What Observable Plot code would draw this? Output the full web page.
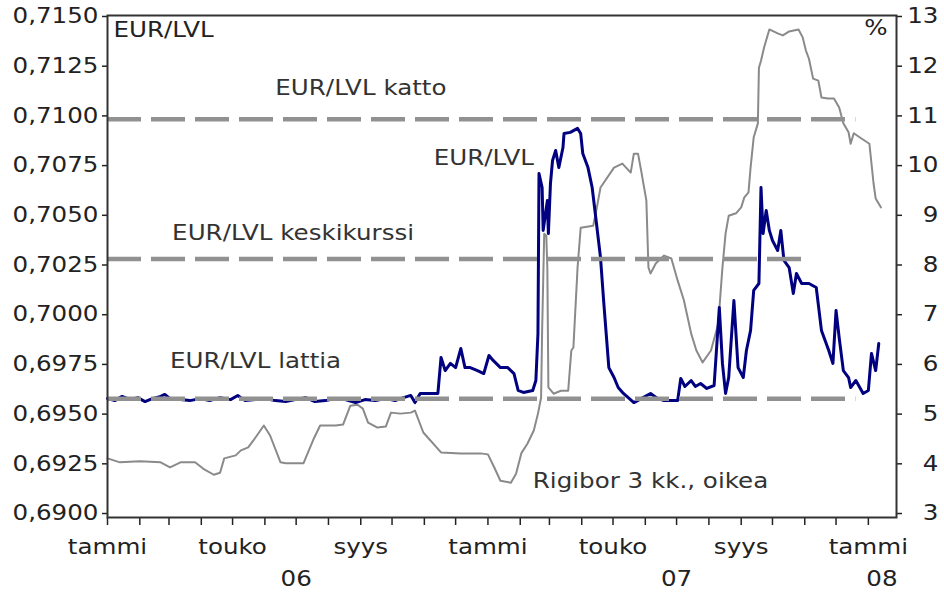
<!DOCTYPE html>
<html><head><meta charset="utf-8">
<script src="https://cdn.jsdelivr.net/npm/d3@7"></script>
<script src="https://cdn.jsdelivr.net/npm/@observablehq/plot@0.6"></script>
<style>
html,body{margin:0;padding:0;background:#fff;}
#chart{width:944px;height:596px;}
</style></head><body><div id="chart"></div>
<script>
// EUR/LVL exchange rate (left axis)
const eurDates = ["2006-01-01","2006-01-08","2006-01-15","2006-01-23","2006-01-30","2006-02-06","2006-02-13","2006-02-21","2006-02-25","2006-03-02","2006-03-12","2006-03-21","2006-03-31","2006-04-09","2006-04-19","2006-04-29","2006-05-06","2006-05-13","2006-05-23","2006-06-01","2006-06-11","2006-06-21","2006-06-30","2006-07-10","2006-07-19","2006-07-29","2006-08-08","2006-08-17","2006-08-27","2006-09-05","2006-09-15","2006-09-25","2006-10-04","2006-10-09","2006-10-19","2006-10-23","2006-10-28","2006-11-14","2006-11-17","2006-11-21","2006-11-26","2006-12-01","2006-12-06","2006-12-10","2006-12-15","2006-12-22","2006-12-28","2007-01-02","2007-01-06","2007-01-13","2007-01-20","2007-01-26","2007-01-30","2007-02-04","2007-02-13","2007-02-16","2007-02-18","2007-02-19","2007-02-22","2007-02-23","2007-02-27","2007-02-28","2007-03-02","2007-03-04","2007-03-07","2007-03-10","2007-03-14","2007-03-15","2007-03-21","2007-03-28","2007-03-31","2007-04-02","2007-04-07","2007-04-11","2007-04-14","2007-04-19","2007-04-22","2007-04-27","2007-05-02","2007-05-06","2007-05-11","2007-05-21","2007-05-28","2007-06-06","2007-06-13","2007-06-19","2007-07-02","2007-07-05","2007-07-09","2007-07-15","2007-07-19","2007-07-24","2007-07-30","2007-08-06","2007-08-11","2007-08-14","2007-08-17","2007-08-20","2007-08-25","2007-08-29","2007-09-03","2007-09-06","2007-09-10","2007-09-13","2007-09-18","2007-09-20","2007-09-22","2007-09-25","2007-09-28","2007-10-01","2007-10-06","2007-10-09","2007-10-12","2007-10-17","2007-10-21","2007-10-24","2007-10-29","2007-11-05","2007-11-12","2007-11-17","2007-11-24","2007-11-28","2007-12-01","2007-12-04","2007-12-08","2007-12-13","2007-12-15","2007-12-20","2007-12-27","2008-01-01","2008-01-04","2008-01-08","2008-01-11"];
const eurValues = [0.69578,0.69568,0.69589,0.69573,0.69583,0.69563,0.69578,0.69589,0.69599,0.69578,0.69573,0.69568,0.69578,0.69568,0.69583,0.69573,0.69594,0.69568,0.69573,0.69578,0.69568,0.69563,0.69573,0.69583,0.69563,0.69568,0.69578,0.69573,0.69558,0.69573,0.69568,0.69578,0.69568,0.69578,0.69594,0.69558,0.69604,0.69604,0.69785,0.69719,0.69755,0.69734,0.69830,0.69734,0.69734,0.69719,0.69704,0.69795,0.69770,0.69734,0.69734,0.69704,0.69619,0.69609,0.69619,0.69669,0.69905,0.70710,0.70640,0.70424,0.70574,0.70408,0.70660,0.70776,0.70826,0.70740,0.70841,0.70911,0.70917,0.70937,0.70911,0.70811,0.70740,0.70640,0.70509,0.70288,0.70071,0.69734,0.69684,0.69634,0.69604,0.69558,0.69578,0.69604,0.69578,0.69568,0.69568,0.69679,0.69639,0.69669,0.69639,0.69654,0.69629,0.69644,0.70036,0.69755,0.69604,0.69684,0.70071,0.69734,0.69684,0.69820,0.69921,0.70122,0.70157,0.70640,0.70408,0.70524,0.70424,0.70373,0.70323,0.70424,0.70273,0.70237,0.70107,0.70207,0.70157,0.70157,0.70137,0.69921,0.69820,0.69755,0.70021,0.69885,0.69719,0.69684,0.69634,0.69669,0.69604,0.69619,0.69805,0.69719,0.69855];

// Rigibor 3 months, % (right axis)
const rigDates = ["2006-01-01","2006-01-13","2006-02-01","2006-02-21","2006-03-02","2006-03-12","2006-03-26","2006-04-03","2006-04-13","2006-04-19","2006-04-23","2006-05-04","2006-05-09","2006-05-16","2006-05-21","2006-05-31","2006-06-06","2006-06-16","2006-06-21","2006-07-08","2006-07-18","2006-07-24","2006-08-08","2006-08-15","2006-08-22","2006-08-29","2006-09-03","2006-09-08","2006-09-17","2006-09-25","2006-09-30","2006-10-09","2006-10-19","2006-10-23","2006-10-31","2006-11-17","2006-12-06","2006-12-25","2007-01-01","2007-01-07","2007-01-13","2007-01-23","2007-01-28","2007-02-02","2007-02-08","2007-02-14","2007-02-18","2007-02-21","2007-02-22","2007-02-24","2007-02-26","2007-02-27","2007-02-28","2007-03-05","2007-03-12","2007-03-19","2007-03-22","2007-03-24","2007-03-28","2007-03-31","2007-04-12","2007-04-15","2007-04-19","2007-05-02","2007-05-10","2007-05-18","2007-05-21","2007-05-25","2007-05-28","2007-06-02","2007-06-04","2007-06-06","2007-06-11","2007-06-19","2007-06-26","2007-07-02","2007-07-08","2007-07-15","2007-07-20","2007-07-26","2007-08-03","2007-08-10","2007-08-14","2007-08-17","2007-08-20","2007-08-27","2007-09-01","2007-09-04","2007-09-08","2007-09-10","2007-09-13","2007-09-17","2007-09-18","2007-09-20","2007-09-23","2007-09-28","2007-10-06","2007-10-11","2007-10-17","2007-10-26","2007-10-30","2007-11-02","2007-11-05","2007-11-09","2007-11-14","2007-11-17","2007-11-23","2007-11-29","2007-12-04","2007-12-08","2007-12-13","2007-12-15","2007-12-18","2007-12-25","2008-01-02","2008-01-06","2008-01-08","2008-01-13"];
const rigValues = [4.11,4.03,4.05,4.03,3.93,4.03,4.03,3.90,3.78,3.82,4.11,4.17,4.27,4.33,4.47,4.77,4.57,4.03,4.01,4.01,4.51,4.77,4.77,4.79,5.17,5.19,5.11,4.83,4.73,4.75,5.03,5.01,5.03,5.07,4.63,4.23,4.21,4.21,4.19,3.93,3.66,3.62,3.80,4.21,4.41,4.67,5.01,5.33,6.68,8.63,8.59,7.95,5.54,5.41,5.47,5.47,6.28,6.34,7.95,8.75,8.79,9.10,9.56,9.96,10.04,9.86,10.24,10.24,9.90,9.30,7.95,7.83,8.03,8.19,8.13,7.69,7.29,6.62,6.28,6.04,6.28,6.82,7.95,8.63,8.99,9.04,9.16,9.36,9.46,9.96,10.57,10.85,11.97,12.11,12.38,12.74,12.66,12.62,12.70,12.74,12.58,12.32,12.15,11.75,11.71,11.37,11.35,11.35,11.17,10.85,10.67,10.44,10.65,10.55,10.44,9.64,9.34,9.16];

// ERM II band lines
const bandNames = ["katto","keskikurssi","lattia"];
const bandValues = [0.709832, 0.702804, 0.695776];
const bandStarts = ["2006-01-01","2006-01-01","2006-01-01"];
const bandEnds = ["2007-12-20","2007-11-07","2007-12-20"];

// axes
const leftTicks = [0.69,0.6925,0.695,0.6975,0.70,0.7025,0.705,0.7075,0.71,0.7125,0.715];
const rightTicks = [3,4,5,6,7,8,9,10,11,12,13];
const monthLabelDates = ["2006-01-01","2006-05-01","2006-09-01","2007-01-01","2007-05-01","2007-09-01","2008-01-01"];
const monthLabels = ["tammi","touko","syys","tammi","touko","syys","tammi"];
const yearLabelDates = ["2006-07-01","2007-07-01","2008-01-14"];
const yearLabels = ["06","07","08"];

// annotations
const noteTexts = ["EUR/LVL katto","EUR/LVL keskikurssi","EUR/LVL lattia","EUR/LVL","Rigibor 3 kk., oikea"];
const noteDates = ["2006-06-11","2006-03-04","2006-03-02","2006-11-10","2007-02-13"];
const noteValues = [0.71138,0.70408,0.69765,0.70786,0.69161];

const SX = 1.17; // horizontal text stretch of the original
const toLeft = r => 0.69 + (r - 3) * 0.0025;
const D = s => new Date(s);

const eur = eurDates.map((d, i) => ({date: D(d), value: eurValues[i]}));
const rig = rigDates.map((d, i) => ({date: D(d), value: toLeft(rigValues[i])}));
const bands = bandNames.map((n, i) => ({name: n, value: bandValues[i], start: D(bandStarts[i]), end: D(bandEnds[i])}));
const months = d3.utcMonth.range(D("2006-01-01"), D("2008-01-02"));
const monthLab = monthLabelDates.map((d, i) => ({date: D(d), text: monthLabels[i]}));
const yearLab = yearLabelDates.map((d, i) => ({date: D(d), text: yearLabels[i]}));
const notes = noteTexts.map((t, i) => ({text: t, date: D(noteDates[i]), value: noteValues[i]}));

const txt = "#222";
const plot = Plot.plot({
  width: 944, height: 596,
  marginLeft: 107, marginRight: 48, marginTop: 15, marginBottom: 79,
  style: {fontFamily: "'DejaVu Sans', Verdana, sans-serif", fontSize: "21px", background: "#fff", color: txt},
  x: {type: "utc", domain: [D("2006-01-01"), D("2008-01-28")], label: null},
  y: {domain: [0.6898, 0.71505], label: null},
  marks: [
    Plot.line(rig, {x: "date", y: "value", stroke: "#8a8a8a", strokeWidth: 2}),
    Plot.line(eur, {x: "date", y: "value", stroke: "#000080", strokeWidth: 3, strokeLinejoin: "round"}),
    Plot.ruleY(bands, {y: "value", x1: "start", x2: "end", stroke: "#919191", strokeWidth: 4.5, strokeDasharray: "34,10"}),
    Plot.axisY({anchor: "left", ticks: leftTicks, tickSize: 5, tickPadding: 4, strokeWidth: 1.5,
      tickFormat: v => v.toFixed(4).replace(".", ","), label: null, fill: txt}),
    Plot.axisY({anchor: "right", ticks: rightTicks.map(toLeft), tickSize: 5, strokeWidth: 1.5, tickFormat: () => "", label: null}),
    Plot.text(rightTicks, {y: r => toLeft(r), text: r => String(r), frameAnchor: "right", dx: 42, textAnchor: "end", fill: txt}),
    Plot.axisX({anchor: "bottom", ticks: months, tickSize: 8, strokeWidth: 1.5, tickFormat: () => "", label: null}),
    Plot.text(monthLab, {x: "date", text: "text", frameAnchor: "bottom", dy: 30, lineAnchor: "middle", fill: txt}),
    Plot.text(yearLab, {x: "date", text: "text", frameAnchor: "bottom", dy: 62, lineAnchor: "middle", fill: txt}),
    Plot.text(notes, {x: "date", y: "value", text: "text", textAnchor: "start", lineAnchor: "middle", fill: "#333"}),
    Plot.text(["EUR/LVL"], {frameAnchor: "top-left", dx: 6, dy: 15, textAnchor: "start", lineAnchor: "middle", fill: txt}),
    Plot.text(["%"], {frameAnchor: "top-right", dx: -9, dy: 13, textAnchor: "end", lineAnchor: "middle", fill: txt}),
    Plot.frame({stroke: "#333", strokeWidth: 2})
  ]
});
document.getElementById("chart").appendChild(plot);
// stretch text horizontally about its anchor, as in the original picture
plot.querySelectorAll("text").forEach(el => {
  const t = el.getAttribute("transform") || "";
  const x = +el.getAttribute("x") || 0;
  el.removeAttribute("x");
  el.setAttribute("transform", `${t} translate(${x},0) scale(${SX},1)`);
});
</script></body></html>
